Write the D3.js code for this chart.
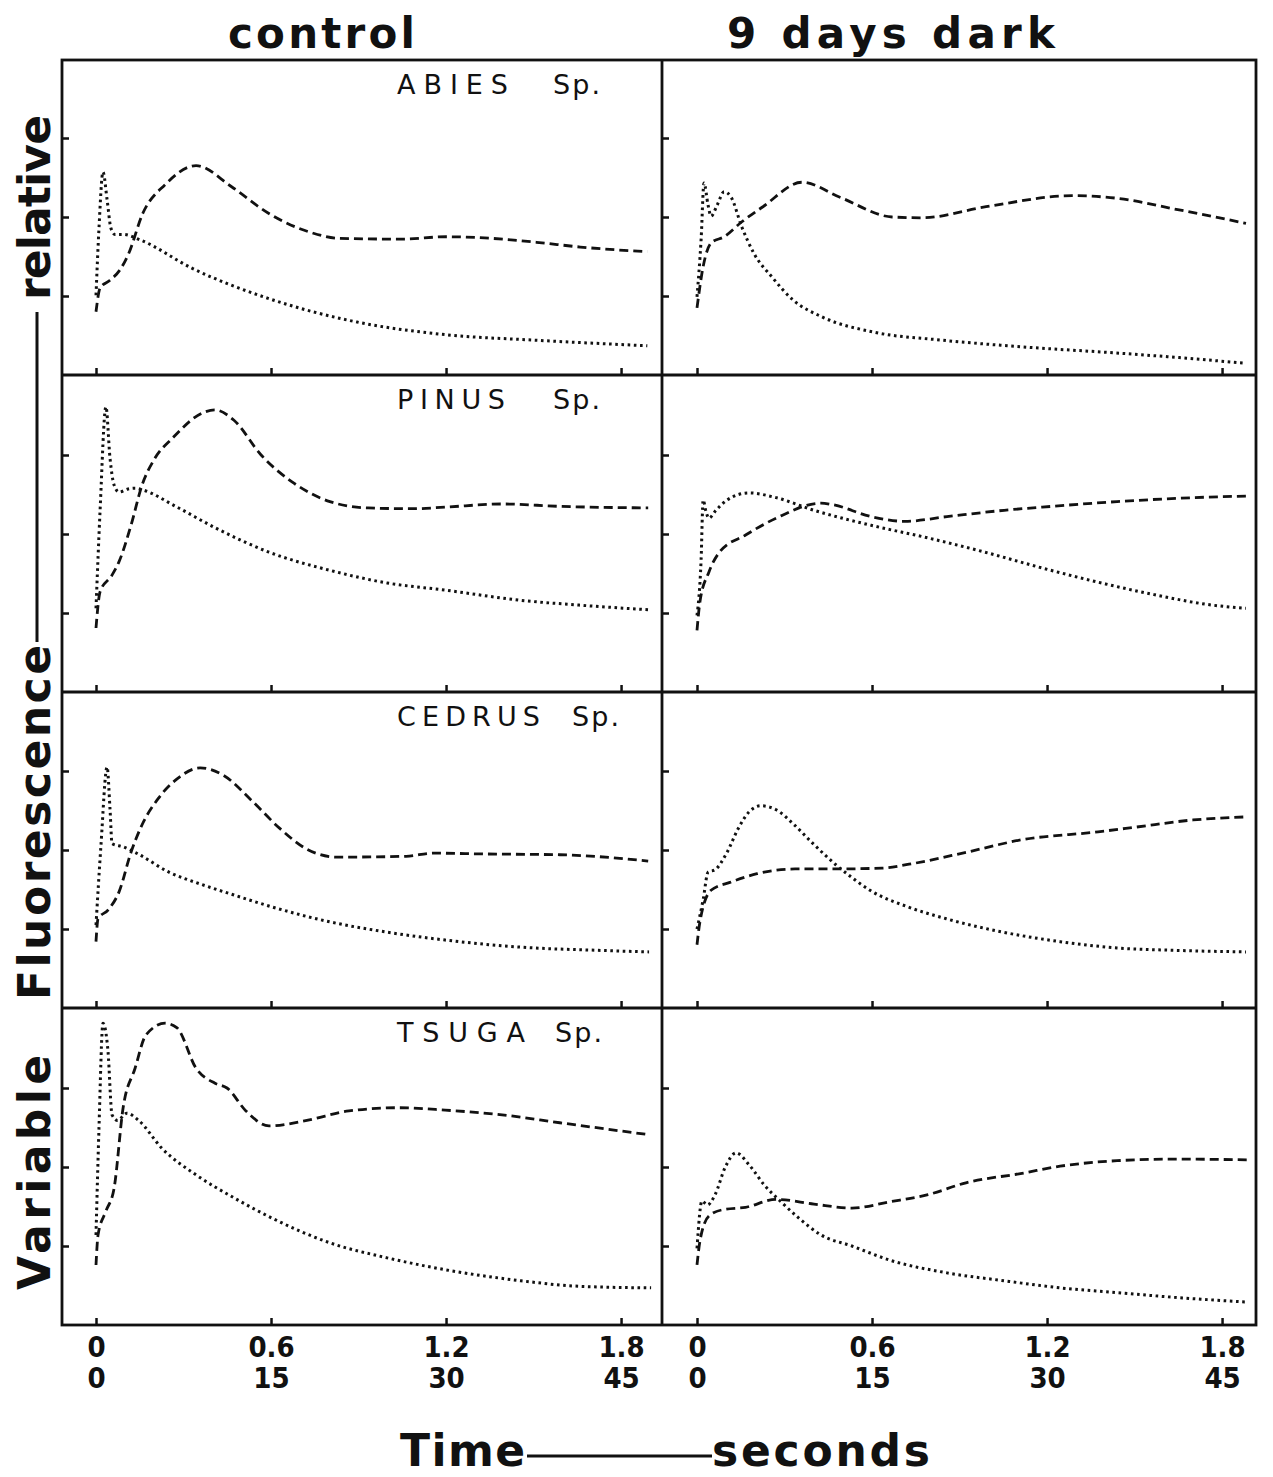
<!DOCTYPE html>
<html>
<head>
<meta charset="utf-8">
<script src="https://cdn.jsdelivr.net/npm/d3@7"></script>
<style>
  body { margin: 0; background: #fff; }
  svg { display: block; }
  text { fill: #111; }
</style>
</head>
<body>
<svg id="chart" width="1273" height="1477"></svg>
<script>
// ---- data (time in seconds, signal in relative units, ticks at 1,2,3) ----
var columns = ["control", "9 days dark"];
var species = ["ABIES", "PINUS", "CEDRUS", "TSUGA"];
var xTicks = [0, 0.6, 1.2, 1.8];
var secLabels = ["0", "0.6", "1.2", "1.8"];
var secLabels2 = ["0", "15", "30", "45"];
var yTicks = [1, 2, 3];

var abiesCtrlDot = [[0,1.01],[0.01,1.84],[0.024,2.57],[0.038,2.22],[0.051,1.86],[0.065,1.78],[0.093,1.78],[0.151,1.71],[0.33,1.35],[0.59,0.97],[0.895,0.67],[1.2,0.51],[1.51,0.44],[1.89,0.37]];
var abiesCtrlDash = [[0,0.8],[0.014,1.1],[0.048,1.2],[0.082,1.33],[0.11,1.52],[0.161,2.05],[0.237,2.41],[0.343,2.65],[0.466,2.38],[0.59,2.05],[0.74,1.8],[0.833,1.73],[1.05,1.72],[1.2,1.75],[1.354,1.73],[1.51,1.68],[1.66,1.62],[1.89,1.56]];
var abiesDarkDot = [[0,0.99],[0.014,1.71],[0.024,2.43],[0.038,2.15],[0.048,2.01],[0.069,2.15],[0.093,2.32],[0.117,2.25],[0.154,1.87],[0.195,1.54],[0.257,1.24],[0.329,0.95],[0.432,0.73],[0.61,0.54],[0.843,0.44],[1.138,0.35],[1.433,0.28],[1.653,0.22],[1.875,0.15]];
var abiesDarkDash = [[0,0.85],[0.021,1.37],[0.048,1.67],[0.093,1.75],[0.154,1.94],[0.226,2.13],[0.36,2.44],[0.49,2.25],[0.669,2.0],[0.771,1.99],[0.991,2.13],[1.286,2.27],[1.433,2.24],[1.653,2.09],[1.882,1.92]];

var pinusCtrlDot = [[0,1.06],[0.014,2.3],[0.034,3.61],[0.048,2.96],[0.062,2.62],[0.079,2.53],[0.11,2.57],[0.134,2.58],[0.158,2.56],[0.278,2.34],[0.408,2.08],[0.593,1.77],[0.802,1.54],[0.998,1.38],[1.197,1.29],[1.457,1.16],[1.656,1.1],[1.896,1.04]];
var pinusCtrlDash = [[0,0.81],[0.014,1.27],[0.055,1.48],[0.079,1.65],[0.12,2.11],[0.158,2.62],[0.199,2.94],[0.264,3.22],[0.37,3.54],[0.408,3.57],[0.473,3.44],[0.566,3.0],[0.672,2.66],[0.802,2.41],[0.933,2.33],[1.09,2.32],[1.197,2.34],[1.392,2.38],[1.59,2.35],[1.893,2.33]];
var pinusDarkDot = [[0,0.97],[0.014,1.67],[0.021,2.43],[0.031,2.28],[0.041,2.2],[0.065,2.3],[0.103,2.43],[0.178,2.52],[0.271,2.46],[0.401,2.3],[0.597,2.11],[0.792,1.95],[0.987,1.77],[1.183,1.57],[1.375,1.39],[1.57,1.23],[1.766,1.1],[1.882,1.06]];
var pinusDarkDash = [[0,0.78],[0.01,1.14],[0.041,1.52],[0.075,1.76],[0.168,1.99],[0.271,2.2],[0.425,2.39],[0.466,2.37],[0.597,2.22],[0.713,2.16],[0.857,2.22],[1.053,2.3],[1.183,2.34],[1.44,2.41],[1.7,2.46],[1.882,2.48]];

var cedrusCtrlDot = [[0,1.05],[0.017,2.06],[0.038,3.05],[0.048,2.52],[0.055,2.08],[0.093,2.04],[0.144,1.95],[0.25,1.72],[0.357,1.57],[0.473,1.43],[0.603,1.28],[0.802,1.09],[0.998,0.96],[1.197,0.86],[1.457,0.77],[1.721,0.73],[1.896,0.71]];
var cedrusCtrlDash = [[0,0.84],[0.007,1.13],[0.041,1.24],[0.079,1.47],[0.12,1.97],[0.158,2.32],[0.213,2.65],[0.278,2.9],[0.357,3.04],[0.435,2.95],[0.538,2.61],[0.631,2.27],[0.723,2.01],[0.826,1.91],[1.063,1.92],[1.155,1.96],[1.327,1.95],[1.59,1.94],[1.893,1.86]];
var cedrusDarkDot = [[0,1.0],[0.021,1.37],[0.038,1.72],[0.062,1.75],[0.103,1.97],[0.141,2.27],[0.178,2.48],[0.219,2.56],[0.271,2.51],[0.333,2.32],[0.398,2.08],[0.477,1.81],[0.528,1.66],[0.593,1.49],[0.723,1.28],[0.854,1.13],[1.049,0.96],[1.245,0.84],[1.44,0.76],[1.636,0.73],[1.882,0.71]];
var cedrusDarkDash = [[0,0.8],[0.01,1.09],[0.048,1.49],[0.113,1.59],[0.206,1.7],[0.336,1.76],[0.466,1.76],[0.634,1.77],[0.727,1.82],[0.922,1.97],[1.114,2.13],[1.375,2.23],[1.505,2.29],[1.7,2.38],[1.889,2.42]];

var tsugaCtrlDot = [[0,1.14],[0.01,2.47],[0.024,3.82],[0.041,3.47],[0.055,2.66],[0.074,2.59],[0.106,2.68],[0.146,2.59],[0.225,2.24],[0.343,1.9],[0.473,1.61],[0.605,1.35],[0.802,1.04],[0.998,0.85],[1.197,0.7],[1.457,0.56],[1.656,0.49],[1.903,0.47]];
var tsugaCtrlDash = [[0,0.76],[0.007,1.14],[0.034,1.44],[0.062,1.73],[0.093,2.75],[0.134,3.25],[0.171,3.67],[0.237,3.82],[0.278,3.76],[0.343,3.25],[0.408,3.06],[0.449,3.0],[0.514,2.71],[0.593,2.52],[0.723,2.59],[0.867,2.71],[1.039,2.75],[1.197,2.72],[1.392,2.66],[1.59,2.56],[1.893,2.41]];
var tsugaDarkDot = [[0,0.97],[0.017,1.57],[0.036,1.52],[0.062,1.65],[0.096,1.99],[0.134,2.18],[0.178,2.03],[0.231,1.77],[0.285,1.57],[0.35,1.35],[0.425,1.14],[0.531,1.0],[0.662,0.82],[0.857,0.66],[1.053,0.56],[1.245,0.47],[1.44,0.41],[1.636,0.35],[1.889,0.29]];
var tsugaDarkDash = [[0,0.76],[0.01,1.06],[0.041,1.38],[0.089,1.46],[0.166,1.49],[0.271,1.59],[0.401,1.53],[0.531,1.48],[0.662,1.56],[0.792,1.65],[0.922,1.8],[1.114,1.92],[1.245,2.01],[1.44,2.08],[1.636,2.1],[1.896,2.09]];

var panels = [
  [abiesCtrlDot, abiesCtrlDash, abiesDarkDot, abiesDarkDash],
  [pinusCtrlDot, pinusCtrlDash, pinusDarkDot, pinusDarkDash],
  [cedrusCtrlDot, cedrusCtrlDash, cedrusDarkDot, cedrusDarkDash],
  [tsugaCtrlDot, tsugaCtrlDash, tsugaDarkDot, tsugaDarkDash]
];

// ---- layout ----
var svg = d3.select("#chart");
var colEdges = [62, 662, 1256];
var colZero = [96, 697];
var pxPerSec = 291.7;
var rowEdges = [60, 375, 692, 1008, 1325];
var ink = "#111";
var font = "'DejaVu Sans', 'Liberation Sans', sans-serif";
var fontCond = "'DejaVu Sans Condensed', 'Liberation Sans Narrow', 'DejaVu Sans', sans-serif";

var xScales = colZero.map(function(z) {
  return d3.scaleLinear().domain([0, 1.8]).range([z, z + 1.8 * pxPerSec]);
});

var line = function(x, y) {
  return d3.line().x(function(d) { return x(d[0]); }).y(function(d) { return y(d[1]); }).curve(d3.curveMonotoneX);
};

// text helper: spread letters over a span measured on the reference
function fitText(sel, len) {
  return sel.attr("textLength", len).attr("lengthAdjust", "spacing");
}

// species label spans: [name width, "Sp." start]
var nameW = [111, 108, 143, 128];
var spX = [553, 553, 572, 555];

for (var r = 0; r < 4; r++) {
  var y = d3.scaleLinear().domain([0, 4]).range([rowEdges[r + 1], rowEdges[r + 1] - 4 * 79]);
  for (var c = 0; c < 2; c++) {
    var x = xScales[c];
    var g = svg.append("g");

    // y ticks (inward)
    g.append("g")
      .attr("transform", "translate(" + colEdges[c] + ",0)")
      .call(d3.axisLeft(y).tickValues(yTicks).tickSize(-7).tickFormat(""))
      .call(function(a) { a.select(".domain").remove(); a.selectAll("line").attr("stroke", ink).attr("stroke-width", 2.5); });

    // x ticks (inward)
    g.append("g")
      .attr("transform", "translate(0," + rowEdges[r + 1] + ")")
      .call(d3.axisBottom(x).tickValues(xTicks).tickSize(-7).tickFormat(""))
      .call(function(a) { a.select(".domain").remove(); a.selectAll("line").attr("stroke", ink).attr("stroke-width", 2.5); });

    var dot = panels[r][c * 2], dash = panels[r][c * 2 + 1];
    g.append("path").datum(dash)
      .attr("d", line(x, y))
      .attr("fill", "none").attr("stroke", ink)
      .attr("stroke-width", 2.8).attr("stroke-dasharray", "9,5");
    g.append("path").datum(dot)
      .attr("d", line(x, y))
      .attr("fill", "none").attr("stroke", ink)
      .attr("stroke-width", 3).attr("stroke-dasharray", "2.6,3.6");
  }

  // species label in the control panel
  fitText(svg.append("text")
    .attr("x", 397).attr("y", rowEdges[r] + 34)
    .attr("font-family", font).attr("font-size", 27)
    .text(species[r]), nameW[r]);
  fitText(svg.append("text")
    .attr("x", spX[r]).attr("y", rowEdges[r] + 34)
    .attr("font-family", font).attr("font-size", 27)
    .text("Sp."), 47);
}

// frame
svg.append("rect")
  .attr("x", colEdges[0]).attr("y", rowEdges[0])
  .attr("width", colEdges[2] - colEdges[0]).attr("height", rowEdges[4] - rowEdges[0])
  .attr("fill", "none").attr("stroke", ink).attr("stroke-width", 2.8);
svg.append("line")
  .attr("x1", colEdges[1]).attr("x2", colEdges[1])
  .attr("y1", rowEdges[0]).attr("y2", rowEdges[4])
  .attr("stroke", ink).attr("stroke-width", 2.8);
svg.selectAll("line.rowdiv").data(rowEdges.slice(1, 4)).enter().append("line")
  .attr("class", "rowdiv")
  .attr("x1", colEdges[0]).attr("x2", colEdges[2])
  .attr("y1", function(d) { return d; }).attr("y2", function(d) { return d; })
  .attr("stroke", ink).attr("stroke-width", 2.8);

// bottom tick labels (two rows)
xScales.forEach(function(x) {
  [[secLabels, 1336], [secLabels2, 1367]].forEach(function(row) {
    var labs = row[0];
    svg.append("g")
      .attr("transform", "translate(0," + row[1] + ")")
      .call(d3.axisBottom(x).tickValues(xTicks).tickSize(0).tickPadding(0)
        .tickFormat(function(d, i) { return labs[i]; }))
      .call(function(a) {
        a.select(".domain").remove();
        a.selectAll("text").attr("font-family", fontCond).attr("font-size", 29)
          .attr("font-weight", "bold").attr("fill", ink);
      });
  });
});

// column titles
var titleX = [228, 727];
var titleW = [187, 328];
columns.forEach(function(t, i) {
  fitText(svg.append("text")
    .attr("x", titleX[i]).attr("y", 48)
    .attr("font-family", font).attr("font-size", 42).attr("font-weight", "bold")
    .text(t), titleW[i]);
});

// y axis title
var yTitle = svg.append("g").attr("transform", "translate(50,0) rotate(-90)");
fitText(yTitle.append("text").attr("x", -1290).attr("y", 0)
  .attr("font-family", font).attr("font-size", 44).attr("font-weight", "bold")
  .text("Variable"), 235);
fitText(yTitle.append("text").attr("x", -1000).attr("y", 0)
  .attr("font-family", font).attr("font-size", 44).attr("font-weight", "bold")
  .text("Fluorescence"), 355);
yTitle.append("line").attr("x1", -642).attr("x2", -312).attr("y1", -13).attr("y2", -13)
  .attr("stroke", ink).attr("stroke-width", 3);
fitText(yTitle.append("text").attr("x", -300).attr("y", 0)
  .attr("font-family", font).attr("font-size", 44).attr("font-weight", "bold")
  .text("relative"), 185);

// x axis title
fitText(svg.append("text").attr("x", 400).attr("y", 1466)
  .attr("font-family", font).attr("font-size", 44).attr("font-weight", "bold")
  .text("Time"), 125);
svg.append("line").attr("x1", 527).attr("x2", 712).attr("y1", 1456).attr("y2", 1456)
  .attr("stroke", ink).attr("stroke-width", 3);
fitText(svg.append("text").attr("x", 712).attr("y", 1466)
  .attr("font-family", font).attr("font-size", 44).attr("font-weight", "bold")
  .text("seconds"), 218);
</script>
</body>
</html>
